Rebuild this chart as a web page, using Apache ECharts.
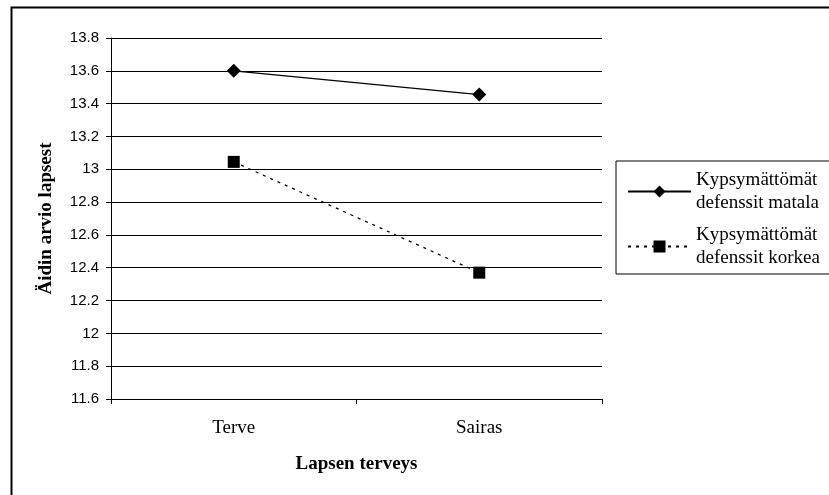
<!DOCTYPE html>
<html><head><meta charset="utf-8">
<script src="https://cdn.jsdelivr.net/npm/echarts@6/dist/echarts.min.js"></script>
<style>html,body{margin:0;padding:0;background:#fff}#c{width:829px;height:495px}</style>
</head><body><div id="c"></div>
<script>
const categories = ['Terve', 'Sairas'];
const matala = [13.6, 13.455];
const korkea = [13.045, 12.37];
const seriesNames = ['Kypsymättömät\ndefenssit matala', 'Kypsymättömät\ndefenssit korkea'];
const yTicks = { min: 11.6, max: 13.8, interval: 0.2 };

const chart = echarts.init(document.getElementById('c'), null, { renderer: 'canvas' });
chart.setOption({
  animation: false,
  backgroundColor: '#fff',
  graphic: [{
    type: 'rect', shape: { x: 11.5, y: 7.5, width: 840, height: 520 },
    style: { fill: 'none', stroke: '#000', lineWidth: 2 }, silent: true, z: -1
  }],
  grid: { left: 111, top: 38, width: 491, height: 361, containLabel: false },
  xAxis: {
    type: 'category', data: categories, boundaryGap: true,
    axisLine: { lineStyle: { color: '#000', width: 1 } },
    axisTick: { show: true, length: 5, inside: false, lineStyle: { color: '#000' } },
    axisLabel: { fontFamily: 'Liberation Serif', fontSize: 19, color: '#000', margin: 20 },
    name: 'Lapsen terveys', nameLocation: 'middle', nameGap: 56,
    nameTextStyle: { fontFamily: 'Liberation Serif', fontSize: 19, fontWeight: 'bold', color: '#000' }
  },
  yAxis: {
    type: 'value', min: yTicks.min, max: yTicks.max, interval: yTicks.interval,
    axisLine: { show: true, lineStyle: { color: '#000' } },
    axisTick: { show: true, length: 5, lineStyle: { color: '#000' } },
    axisLabel: { fontFamily: 'Liberation Sans', fontSize: 15, color: '#000', margin: 12,
      formatter: v => String(parseFloat(v.toFixed(1))) },
    splitLine: { show: true, lineStyle: { color: '#000', width: 1 } },
    name: 'Äidin arvio lapsest', nameLocation: 'middle', nameGap: 55, nameRotate: 90,
    nameTextStyle: { fontFamily: 'Liberation Serif', fontSize: 19, fontWeight: 'bold', color: '#000' }
  },
  legend: {
    orient: 'vertical', left: 616, top: 161,
    padding: [7.5, 40, 4.5, 11], itemGap: 9, itemWidth: 63, itemHeight: 15,
    borderColor: '#000', borderWidth: 1,
    textStyle: { fontFamily: 'Liberation Serif', fontSize: 19, color: '#000', lineHeight: 23 },
    data: seriesNames
  },
  series: [
    { name: seriesNames[0], type: 'line', data: matala, symbol: 'diamond', symbolSize: 14,
      lineStyle: { color: '#000', width: 1.3, type: 'solid' }, itemStyle: { color: '#000' } },
    { name: seriesNames[1], type: 'line', data: korkea, symbol: 'rect', symbolSize: 12,
      lineStyle: { color: '#000', width: 1.3, type: [3, 5] }, itemStyle: { color: '#000' } }
  ]
});
</script></body></html>
